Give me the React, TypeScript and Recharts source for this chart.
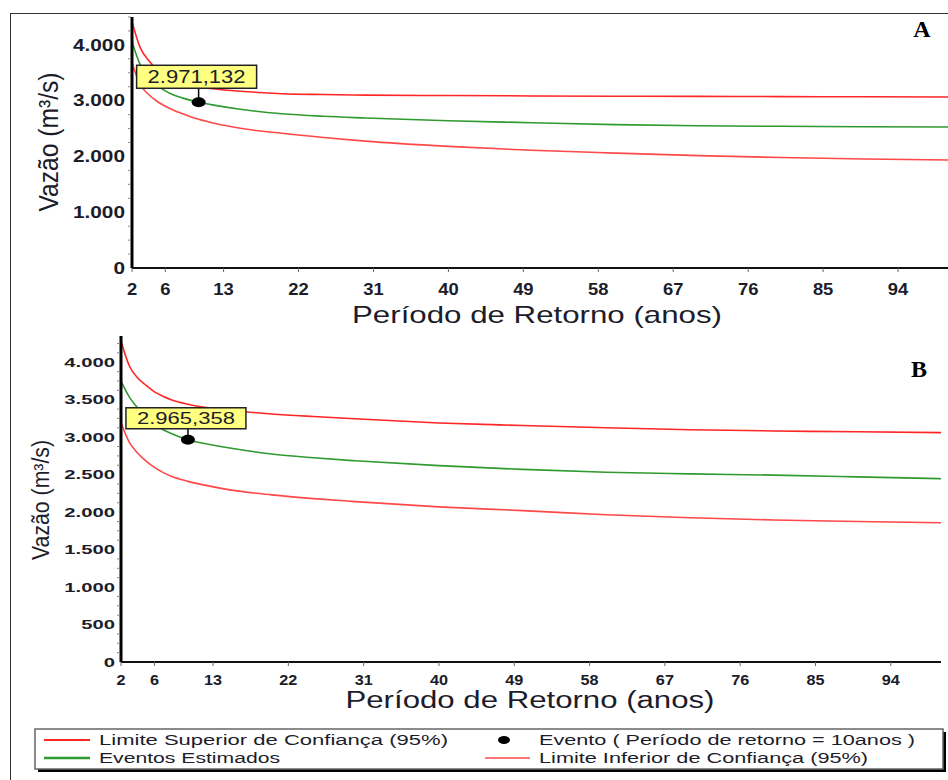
import React from 'react';
import { ComposedChart, Line, XAxis, YAxis, ReferenceDot, Label } from 'recharts';

// Return periods (years)
const periods = [2, 3, 4, 5, 6, 7, 8, 10, 12, 15, 20, 25, 30, 40, 50, 60, 70, 80, 90, 100];

// Panel A (m3/s)
const upperA = [4412, 3946, 3720, 3560, 3450, 3370, 3320, 3250, 3210, 3170, 3125, 3110, 3100, 3092, 3085, 3080, 3077, 3073, 3070, 3067];
const estimatedA = [4054, 3641, 3420, 3280, 3175, 3100, 3050, 2971, 2915, 2845, 2765, 2720, 2690, 2640, 2605, 2570, 2550, 2540, 2532, 2528];
const lowerA = [3677, 3282, 3110, 2990, 2900, 2830, 2770, 2665, 2590, 2505, 2415, 2340, 2275, 2180, 2110, 2060, 2015, 1980, 1955, 1937];

// Panel B (m3/s)
const upperB = [4282, 3950, 3790, 3690, 3605, 3547, 3500, 3440, 3400, 3360, 3310, 3275, 3245, 3190, 3155, 3125, 3100, 3083, 3072, 3061];
const estimatedB = [3747, 3535, 3390, 3280, 3175, 3102, 3050, 2965, 2915, 2855, 2775, 2725, 2685, 2620, 2570, 2532, 2510, 2494, 2470, 2446];
const lowerB = [3191, 2930, 2785, 2680, 2597, 2530, 2478, 2410, 2360, 2297, 2230, 2180, 2140, 2070, 2020, 1965, 1925, 1895, 1875, 1858];

// Event (return period = 10 years)
const eventPeriod = 10;
const eventA = 2971.132;
const eventB = 2965.358;

// Axis ticks
const xTicks = [2, 6, 13, 22, 31, 40, 49, 58, 67, 76, 85, 94];
const yLabelsA = [0, 1000, 2000, 3000, 4000];
const yMinorStepA = 250;
const yMaxA = 4500;
const yLabelsB = [0, 500, 1000, 1500, 2000, 2500, 3000, 3500, 4000];
const yMinorStepB = 125;
const yMaxB = 4350;

const legendLabels = [
  'Limite Superior  de Confiança (95%)',
  'Eventos Estimados',
  'Evento ( Período de retorno = 10anos )',
  'Limite Inferior de Confiança (95%)',
];

const UPPER = '#ff2626';
const GREEN = '#2f9a2f';
const LOWER = '#ff4848';
const LOWER_LEGEND = '#ff7777';
const FONT = '"Liberation Sans", Arial, sans-serif';
const TXT = '#1c1c2a';

const rowsA = periods.map((t, i) => ({ t, upper: upperA[i], est: estimatedA[i], lower: lowerA[i] }));
const rowsB = periods.map((t, i) => ({ t, upper: upperB[i], est: estimatedB[i], lower: lowerB[i] }));

const range = (step: number, max: number) => {
  const out: number[] = [];
  for (let v = 0; v <= max + 1e-6; v += step) out.push(v);
  return out;
};

const fmtBR = (v: number, decimals = 0) => {
  const fixed = v.toFixed(decimals);
  const [int, dec] = fixed.split('.');
  const intStr = int.replace(/\B(?=(\d{3})+(?!\d))/g, '.');
  return dec ? `${intStr},${dec}` : intStr;
};

const makeYTick = (labels: number[], fontSize: number, sx: number, gap: number) => (props: any) => {
  const { x, y, payload } = props;
  const v = payload.value;
  const ax = x + gap;
  if (!labels.includes(v)) {
    return <line x1={ax - 4} x2={ax - 1} y1={y} y2={y} stroke="#888" strokeWidth={1} />;
  }
  return (
    <g transform={`translate(${x},${y}) scale(${sx},1)`}>
      <text x={0} y={0} dy="0.36em" textAnchor="end" fontSize={fontSize} fontWeight="bold" fill={TXT} fontFamily={FONT}>
        {fmtBR(v)}
      </text>
    </g>
  );
};

const makeXTick = (fontSize: number, sx: number) => (props: any) => {
  const { x, y, payload } = props;
  return (
    <g transform={`translate(${x},${y}) scale(${sx},1)`}>
      <text x={0} y={0} dy="0.72em" textAnchor="middle" fontSize={fontSize} fontWeight="bold" fill={TXT} fontFamily={FONT}>
        {payload.value}
      </text>
    </g>
  );
};

const makeEventShape = (value: number, gap: number, boxH: number, fontSize: number) => (props: any) => {
  const { cx, cy } = props;
  const boxW = 120;
  const bx = cx - 62;
  const by = cy - gap - boxH;
  return (
    <g>
      <line x1={cx} x2={cx} y1={by + boxH} y2={cy} stroke="#000" strokeWidth={1.5} />
      <ellipse cx={cx} cy={cy} rx={7} ry={5} fill="#000" />
      <rect x={bx} y={by} width={boxW} height={boxH} fill="#ffff80" stroke="#222" strokeWidth={1.5} />
      <text
        x={bx + boxW / 2}
        y={by + boxH / 2}
        dy="0.36em"
        textAnchor="middle"
        fontSize={fontSize}
        fill={TXT}
        fontFamily={FONT}
        textLength={98}
        lengthAdjust="spacingAndGlyphs"
      >
        {fmtBR(value, 3)}
      </text>
    </g>
  );
};

type PanelProps = {
  rows: any[];
  top: number;
  height: number;
  marginTop: number;
  marginRight: number;
  yWidth: number;
  xHeight: number;
  yMax: number;
  yLabels: number[];
  yMinorStep: number;
  yFont: number;
  ySx: number;
  yGap: number;
  xFont: number;
  xSx: number;
  xTickMargin: number;
  eventValue: number;
  eventGap: number;
  eventBoxH: number;
  eventFont: number;
  xTitle: { x: number; y: number; len: number; size: number };
  yTitle: { x: number; y: number; len: number; size: number };
  letter: { text: string; x: number; y: number; size: number };
};

const Panel = (p: PanelProps) => (
  <div style={{ position: 'absolute', left: 0, top: p.top, width: 948, height: p.height }}>
    <ComposedChart
      width={948}
      height={p.height}
      data={p.rows}
      margin={{ top: p.marginTop, right: p.marginRight, bottom: 0, left: 0 }}
    >
      <XAxis
        dataKey="t"
        type="number"
        domain={[2, 100]}
        ticks={xTicks}
        interval={0}
        height={p.xHeight}
        axisLine={{ stroke: '#111', strokeWidth: 2 }}
        tickLine={{ stroke: '#666', strokeWidth: 1 }}
        tickSize={4}
        tickMargin={p.xTickMargin}
        tick={makeXTick(p.xFont, p.xSx)}
        allowDataOverflow
      >
        <Label
          content={() => (
            <g>
              <text
                x={p.xTitle.x}
                y={p.xTitle.y}
                textAnchor="middle"
                fontSize={p.xTitle.size}
                fill={TXT}
                fontFamily={FONT}
                textLength={p.xTitle.len}
                lengthAdjust="spacingAndGlyphs"
              >
                Período de Retorno (anos)
              </text>
              <text
                x={p.letter.x}
                y={p.letter.y}
                textAnchor="middle"
                fontSize={p.letter.size}
                fontWeight="bold"
                fill="#000"
                fontFamily='"Liberation Serif", "Times New Roman", serif'
              >
                {p.letter.text}
              </text>
            </g>
          )}
        />
      </XAxis>
      <YAxis
        type="number"
        domain={[0, p.yMax]}
        ticks={range(p.yMinorStep, p.yMax)}
        interval={0}
        width={p.yWidth}
        axisLine={{ stroke: '#000', strokeWidth: 3 }}
        tickLine={false}
        tickSize={0}
        tickMargin={p.yGap}
        tick={makeYTick(p.yLabels, p.yFont, p.ySx, p.yGap)}
        allowDataOverflow
      >
        <Label
          content={() => (
            <text
              x={p.yTitle.x}
              y={p.yTitle.y}
              transform={`rotate(-90, ${p.yTitle.x}, ${p.yTitle.y})`}
              textAnchor="middle"
              fontSize={p.yTitle.size}
              fill={TXT}
              fontFamily={FONT}
              textLength={p.yTitle.len}
              lengthAdjust="spacingAndGlyphs"
            >
              Vazão (m³/s)
            </text>
          )}
        />
      </YAxis>
      <Line type="monotone" dataKey="upper" stroke={UPPER} strokeWidth={1.6} dot={false} isAnimationActive={false} />
      <Line type="monotone" dataKey="est" stroke={GREEN} strokeWidth={1.6} dot={false} isAnimationActive={false} />
      <Line type="monotone" dataKey="lower" stroke={LOWER} strokeWidth={1.6} dot={false} isAnimationActive={false} />
      <ReferenceDot
        x={eventPeriod}
        y={p.eventValue}
        r={6}
        ifOverflow="visible"
        shape={makeEventShape(p.eventValue, p.eventGap, p.eventBoxH, p.eventFont)}
      />
    </ComposedChart>
  </div>
);

const LegendBox = () => (
  <svg style={{ position: 'absolute', left: 0, top: 720 }} width={948} height={60}>
    <rect x={38} y={12} width={908} height={40} fill="#000" />
    <rect x={35} y={9} width={908} height={40} fill="#fff" stroke="#666" strokeWidth={1.5} />
    <line x1={44} x2={90} y1={20} y2={20} stroke={UPPER} strokeWidth={2} />
    <text x={99} y={20} dy="0.36em" fontSize={14} fill={TXT} fontFamily={FONT} textLength={349} lengthAdjust="spacingAndGlyphs">
      {legendLabels[0]}
    </text>
    <line x1={44} x2={90} y1={38} y2={38} stroke={GREEN} strokeWidth={2.4} />
    <text x={99} y={38} dy="0.36em" fontSize={14} fill={TXT} fontFamily={FONT} textLength={181} lengthAdjust="spacingAndGlyphs">
      {legendLabels[1]}
    </text>
    <ellipse cx={504} cy={20} rx={6} ry={4} fill="#000" />
    <text x={539} y={20} dy="0.36em" fontSize={14} fill={TXT} fontFamily={FONT} textLength={376} lengthAdjust="spacingAndGlyphs">
      {legendLabels[2]}
    </text>
    <line x1={485} x2={530} y1={38} y2={38} stroke={LOWER_LEGEND} strokeWidth={2} />
    <text x={539} y={38} dy="0.36em" fontSize={14} fill={TXT} fontFamily={FONT} textLength={329} lengthAdjust="spacingAndGlyphs">
      {legendLabels[3]}
    </text>
  </svg>
);

export default function App() {
  return (
    <div style={{ position: 'absolute', left: 0, top: 0, width: 948, height: 780, background: '#fff', overflow: 'hidden' }}>
      <div
        style={{
          position: 'absolute',
          left: 10,
          top: 13,
          width: 960,
          height: 800,
          borderLeft: '1.5px solid #333',
          borderTop: '1.5px solid #333',
        }}
      />
      <Panel
        rows={rowsA}
        top={0}
        height={330}
        marginTop={17}
        marginRight={0}
        yWidth={132}
        xHeight={62}
        yMax={yMaxA}
        yLabels={yLabelsA}
        yMinorStep={yMinorStepA}
        yFont={16}
        ySx={1.3}
        yGap={7}
        xFont={16}
        xSx={1.15}
        xTickMargin={11}
        eventValue={eventA}
        eventGap={14}
        eventBoxH={23}
        eventFont={18}
        xTitle={{ x: 537, y: 323, len: 370, size: 24 }}
        yTitle={{ x: 58, y: 142, len: 139, size: 27 }}
        letter={{ text: 'A', x: 922, y: 37, size: 24 }}
      />
      <Panel
        rows={rowsB}
        top={320}
        height={400}
        marginTop={16}
        marginRight={7}
        yWidth={121}
        xHeight={58}
        yMax={yMaxB}
        yLabels={yLabelsB}
        yMinorStep={yMinorStepB}
        yFont={12.5}
        ySx={1.62}
        yGap={6}
        xFont={14}
        xSx={1.16}
        xTickMargin={9}
        eventValue={eventB}
        eventGap={11}
        eventBoxH={21}
        eventFont={17}
        xTitle={{ x: 530, y: 388, len: 369, size: 23 }}
        yTitle={{ x: 49, y: 180, len: 120, size: 23 }}
        letter={{ text: 'B', x: 919, y: 57, size: 24 }}
      />
      <LegendBox />
    </div>
  );
}
